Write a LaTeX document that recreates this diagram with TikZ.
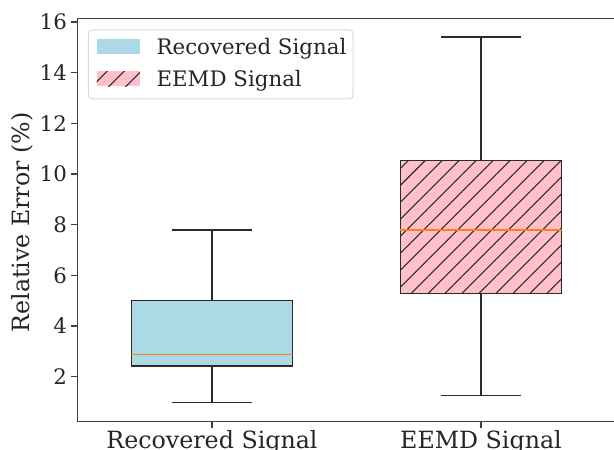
\documentclass[tikz,border=0pt]{standalone}
\usepackage{fontspec}
\setmainfont{DejaVu Serif}
\usetikzlibrary{positioning,patterns.meta}
\definecolor{recblue}{HTML}{ADD8E6}
\definecolor{eemdpink}{HTML}{FFC0CB}
\definecolor{medorange}{HTML}{FF7F0E}
\definecolor{edgegray}{HTML}{2B2B2B}

\begin{document}
\begin{tikzpicture}[x=201.75pt, y=19pt,
    axisframe/.style={draw=black!75, line width=0.9pt},
    boxline/.style={draw=edgegray, line width=0.9pt},
    whisker/.style={draw=edgegray, line width=0.9pt},
    median/.style={draw=medorange, line width=1.1pt},
    hatched/.style={postaction={pattern={Lines[angle=45,distance=9pt,line width=0.8pt]}, pattern color=edgegray}},
    ticklabel/.style={inner sep=0pt, text=black!85, font=\fontsize{16}{19}\selectfont},
    axislabel/.style={inner sep=0pt, text=black!85, font=\fontsize{17.8}{21}\selectfont},
    legendtext/.style={inner sep=0pt, text=black!85, text height=11.7pt, text depth=0pt, font=\fontsize{16}{19}\selectfont},
    patch/.style={inner sep=0pt, minimum width=32.5pt, minimum height=11.25pt}]
        \useasboundingbox (0.2119,-0.892) rectangle (2.4944,16.87);

        % Recovered Signal
        \draw[whisker] (1,5.0) -- (1,7.79);
        \draw[whisker] (1,2.42) -- (1,0.97);
        \draw[whisker] (0.85,7.79) -- (1.15,7.79);
        \draw[whisker] (0.85,0.97) -- (1.15,0.97);
        \draw[boxline, fill=recblue] (0.7,2.42) rectangle (1.3,5.0);
        \draw[median] (0.7,2.88) -- (1.3,2.88);

        % EEMD Signal
        \draw[whisker] (2,10.55) -- (2,15.41);
        \draw[whisker] (2,5.29) -- (2,1.27);
        \draw[whisker] (1.85,15.41) -- (2.15,15.41);
        \draw[whisker] (1.85,1.27) -- (2.15,1.27);
        \draw[boxline, fill=eemdpink, hatched] (1.7,5.29) rectangle (2.3,10.55);
        \draw[median] (1.7,7.79) -- (2.3,7.79);

        % axes
        \draw[axisframe] (0.5,0.248) rectangle (2.5,16.132);
        \foreach \v in {2,4,...,16} {
            \draw[axisframe] (0.5,\v) -- ++(-5.25pt,0);
            \node[ticklabel, anchor=east] (ytick\v) at ([xshift=-7.8pt]0.5,\v) {\v};
        }
        \draw[axisframe] (1,0.248) -- ++(0,-5.25pt);
        \draw[axisframe] (2,0.248) -- ++(0,-5.25pt);
        \node[axislabel, anchor=base] (xrec) at (1,-0.85) {Recovered Signal};
        \node[axislabel, anchor=base] (xeemd) at (2,-0.85) {EEMD Signal};
        \node[axislabel, rotate=90] (ylabel) at (0.2937,8.09) {Relative Error (\%)};

        % legend
        \draw[draw=black!15, fill=white, fill opacity=0.8, line width=0.75pt, rounded corners=3pt] (0.540,12.965) rectangle (1.525,15.69);
        \node[patch, fill=recblue] (recpatch) at (0.6519,15.04) {};
        \node[patch, fill=eemdpink, hatched] (eemdpatch) at (0.6519,13.77) {};
        \node[legendtext, right=12pt of recpatch] (reclabel) {Recovered Signal};
        \node[legendtext, right=12pt of eemdpatch] (eemdlabel) {EEMD Signal};
\end{tikzpicture}
\end{document}
